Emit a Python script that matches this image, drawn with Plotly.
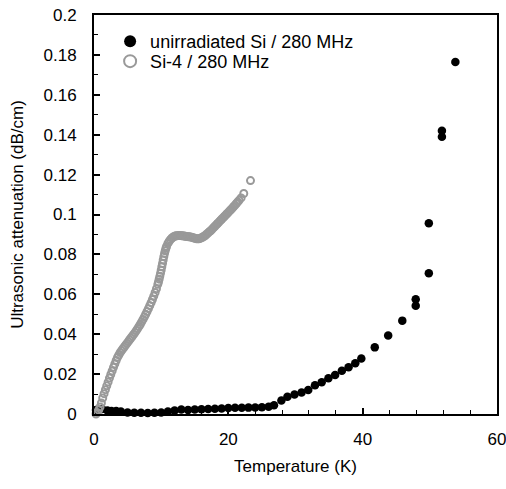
import plotly.graph_objects as go

# unirradiated Si / 280 MHz
t_unirr = [0.3, 1.2, 2.0, 2.6, 3.3, 4.0, 5.0, 6.0, 7.0, 8.0, 9.0, 10.0, 11.0, 12.0,
           13.0, 14.0, 15.0, 16.0, 17.0, 18.0, 19.0, 20.0, 21.0, 22.0, 23.0, 24.0,
           25.0, 26.0, 26.8, 27.9, 28.8, 29.85, 30.9, 31.9, 32.9, 33.9, 34.9, 35.9,
           36.9, 37.9, 38.9, 39.8, 41.8, 43.8, 45.9, 47.9, 47.9, 49.85, 49.85,
           51.8, 51.8, 53.8]
a_unirr = [0.0020, 0.0025, 0.0018, 0.0015, 0.0015, 0.0012, 0.0008, 0.0006, 0.0006,
           0.0005, 0.0006, 0.0008, 0.0012, 0.0018, 0.0022, 0.0020, 0.0022, 0.0024,
           0.0025, 0.0026, 0.0028, 0.0030, 0.0031, 0.0031, 0.0032, 0.0033, 0.0034,
           0.0036, 0.0044, 0.0068, 0.0087, 0.0098, 0.0108, 0.0120, 0.0144, 0.0159,
           0.0179, 0.0195, 0.0217, 0.0234, 0.0254, 0.0278, 0.0334, 0.0394, 0.0468,
           0.0575, 0.0543, 0.0956, 0.0705, 0.1420, 0.1390, 0.1764]

# Si-4 / 280 MHz
t_si4 = [0.3, 0.5, 0.7, 0.9, 1.1, 1.3, 1.5, 1.7, 1.9, 2.1, 2.3, 2.5, 2.7, 2.9, 3.1,
         3.3, 3.5, 3.7, 3.9, 4.1, 4.3, 4.5, 4.7, 4.9, 5.1, 5.3, 5.5, 5.7, 5.9, 6.1,
         6.3, 6.5, 6.7, 6.9, 7.1, 7.3, 7.5, 7.7, 7.9, 8.1, 8.3, 8.5, 8.7, 8.9, 9.1,
         9.3, 9.5, 9.6, 9.7, 9.8, 9.9, 10.0, 10.1, 10.2, 10.3, 10.4, 10.5, 10.6,
         10.7, 10.8, 11.0, 11.2, 11.4, 11.6, 11.8, 12.0, 12.2, 12.4, 12.6, 12.8,
         13.0, 13.2, 13.4, 13.6, 13.8, 14.0, 14.2, 14.4, 14.6, 14.8, 15.0, 15.2,
         15.4, 15.6, 15.8, 16.0, 16.2, 16.4, 16.6, 16.8, 17.0, 17.2, 17.4, 17.6,
         17.8, 18.0, 18.2, 18.4, 18.6, 18.8, 19.0, 19.2, 19.4, 19.6, 19.8, 20.0,
         20.2, 20.4, 20.6, 20.8, 21.0, 21.2, 21.4, 21.6, 21.9, 22.3, 23.3]
a_si4 = [0.0000, 0.0008, 0.0020, 0.0035, 0.0055, 0.0080, 0.0102, 0.0122, 0.0141,
         0.0160, 0.0180, 0.0198, 0.0216, 0.0234, 0.0251, 0.0268, 0.0284, 0.0296,
         0.0308, 0.0318, 0.0327, 0.0336, 0.0345, 0.0354, 0.0363, 0.0372, 0.0381,
         0.0390, 0.0399, 0.0408, 0.0418, 0.0428, 0.0439, 0.0450, 0.0462, 0.0474,
         0.0487, 0.0500, 0.0514, 0.0528, 0.0543, 0.0558, 0.0574, 0.0591, 0.0609,
         0.0628, 0.0650, 0.0662, 0.0676, 0.0690, 0.0705, 0.0721, 0.0738, 0.0755,
         0.0772, 0.0789, 0.0805, 0.0818, 0.0830, 0.0840, 0.0855, 0.0866, 0.0875,
         0.0882, 0.0887, 0.0891, 0.0893, 0.0894, 0.0895, 0.0895, 0.0894, 0.0893,
         0.0892, 0.0891, 0.0890, 0.0889, 0.0888, 0.0887, 0.0885, 0.0883, 0.0881,
         0.0879, 0.0878, 0.0878, 0.0880, 0.0883, 0.0887, 0.0891, 0.0896, 0.0902,
         0.0908, 0.0914, 0.0920, 0.0927, 0.0934, 0.0941, 0.0948, 0.0955, 0.0962,
         0.0969, 0.0976, 0.0983, 0.0990, 0.0997, 0.1004, 0.1011, 0.1018, 0.1025,
         0.1032, 0.1040, 0.1047, 0.1055, 0.1063, 0.1071, 0.1083, 0.1105, 0.1170]

x_ticks = [0, 20, 40, 60]
y_ticks = [0, 0.02, 0.04, 0.06, 0.08, 0.1, 0.12, 0.14, 0.16, 0.18, 0.2]
y_tick_text = ["0", "0.02", "0.04", "0.06", "0.08", "0.1", "0.12", "0.14", "0.16", "0.18", "0.2"]

FONT = "Liberation Sans, Arial, sans-serif"

fig = go.Figure()
fig.add_trace(go.Scatter(
    x=t_unirr, y=a_unirr, mode="markers", name="unirradiated Si / 280 MHz",
    marker=dict(symbol="circle", size=8.5, color="#000000", line=dict(width=0)),
    cliponaxis=False, legend="legend",
))
fig.add_trace(go.Scatter(
    x=t_si4, y=a_si4, mode="markers", name="Si-4 / 280 MHz",
    marker=dict(symbol="circle-open", size=7, color="#999999", line=dict(width=2, color="#999999")),
    cliponaxis=False, legend="legend2",
))

legend_common = dict(xanchor="left", yanchor="top", bgcolor="rgba(0,0,0,0)",
                     borderwidth=0, font=dict(size=18), itemsizing="constant")

fig.update_layout(
    width=506, height=489,
    margin=dict(l=94, r=9, t=15, b=75, autoexpand=False),
    paper_bgcolor="white", plot_bgcolor="white",
    font=dict(family=FONT, size=17, color="#000000"),
    showlegend=True, hovermode=False,
    legend=dict(x=0.04, y=0.98, **legend_common),
    legend2=dict(x=0.04, y=0.93, **legend_common),
)
fig.update_xaxes(
    range=[0, 60], tickvals=x_ticks, ticks="inside", ticklen=6, tickwidth=1.5,
    tickcolor="#000", showline=True, linecolor="#000", linewidth=2, mirror=True,
    showgrid=False, zeroline=False, automargin=False, ticklabeloverflow="allow",
    minor=dict(dtick=4, tick0=0, ticks="inside", ticklen=4, tickwidth=1.2, tickcolor="#000", showgrid=False),
    ticklabelstandoff=9,
    title=dict(text="Temperature (K)", font=dict(size=17), standoff=12),
)
fig.update_yaxes(
    range=[0, 0.2], tickvals=y_ticks, ticktext=y_tick_text, ticks="inside",
    ticklen=6, tickwidth=1.5, tickcolor="#000", showline=True, linecolor="#000",
    linewidth=2, mirror=True, showgrid=False, zeroline=False, automargin=False,
    ticklabeloverflow="allow",
    minor=dict(dtick=0.01, tick0=0, ticks="inside", ticklen=4, tickwidth=1.2, tickcolor="#000", showgrid=False),
    ticklabelstandoff=12,
    title=dict(text="Ultrasonic attenuation (dB/cm)", font=dict(size=17), standoff=16),
)

# remove the default page margin so the 506x489 figure fills the window exactly
fig.write_html(
    "out.html",
    config={"displayModeBar": False},
    post_script="document.body.style.margin='0';document.documentElement.style.overflow='hidden';",
)
